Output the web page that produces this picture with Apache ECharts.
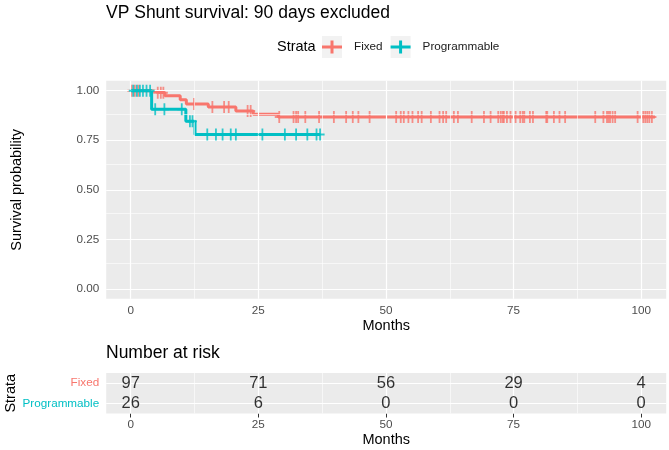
<!DOCTYPE html>
<html>
<head>
<meta charset="utf-8">
<script src="https://cdn.jsdelivr.net/npm/echarts@6/dist/echarts.min.js"></script>
<style>html,body{margin:0;padding:0;background:#fff}#c{width:669px;height:450px}</style>
</head>
<body>
<div id="c"></div>
<script>
// ---- data ----
const fixedTimes = [0, 4.1, 6.7, 9.7, 10.9, 15.2, 20.6, 24.0, 28.9, 102.7];
const fixedSurv  = [1.0, 0.990, 0.975, 0.955, 0.933, 0.918, 0.897, 0.881, 0.867, 0.867];
const progTimes  = [0, 4.1, 10.8, 12.6, 37.1];
const progSurv   = [1.0, 0.907, 0.846, 0.779, 0.779];
const fixedCensor = [0.2, 0.8, 1.5, 5.3, 5.9, 6.4, 12.4, 16.0, 18.3, 19.2, 22.9, 23.5, 29.1, 31.9, 32.4, 32.8, 34.2, 36.9, 39.8,
  42.2, 43.5, 44.6, 46.8, 52.0, 52.9, 53.5, 54.4, 55.2, 56.3, 57.0, 58.8, 60.5, 61.2, 61.8, 63.3, 64.1, 66.8, 69.2, 70.5,
  72.0, 72.5, 72.9, 73.1, 73.7, 74.4, 75.4, 76.3, 76.8, 77.1, 78.2, 78.8, 81.4, 81.6, 82.9, 84.0, 85.1, 91.0, 92.6, 93.3,
  93.6, 93.9, 94.4, 94.9, 99.3, 100.4, 100.8, 101.2, 101.6, 102.1];
const progCensor = [0.5, 1.2, 1.8, 2.4, 3.1, 3.8, 4.8, 6.6, 10.0, 11.6, 12.1, 15.0, 16.7, 18.0, 19.6, 20.6, 25.8, 30.2, 32.4, 34.6, 36.4, 37.1];
const strata = ['Fixed', 'Programmable'];
const riskTimes = [0, 25, 50, 75, 100];
const riskFixed = [97, 71, 56, 29, 4];
const riskProg  = [26, 6, 0, 0, 0];
const xTicks = [0, 25, 50, 75, 100];
const yTicks = [0, 0.25, 0.5, 0.75, 1];

// ---- helpers ----
const RED = '#F8766D', TEAL = '#00BFC4';
const FONT = 'Liberation Sans, Arial, Helvetica, sans-serif';
function survAt(times, surv, t) {
  let s = surv[0];
  for (let i = 0; i < times.length; i++) if (times[i] <= t) s = surv[i];
  return s;
}
function mids(arr) { const r = []; for (let i = 0; i < arr.length - 1; i++) r.push((arr[i] + arr[i + 1]) / 2); return r; }
const plusPath = 'path://M4,0 H6 V5 H10 V7 H6 V12 H4 V7 H0 V5 H4 Z';
const legendPlus = 'path://M0,5 H20 V8 H0 Z M8.5,0 H11.5 V13 H8.5 Z';

function gridLines(xMajor, xMinor, yMajor, yMinor) {
  const d = [];
  xMinor.forEach(v => d.push({ xAxis: v, lineStyle: { width: 0.6 } }));
  (yMinor || []).forEach(v => d.push({ yAxis: v, lineStyle: { width: 0.6 } }));
  xMajor.forEach(v => d.push({ xAxis: v, lineStyle: { width: 1.2 } }));
  yMajor.forEach(v => d.push({ yAxis: v, lineStyle: { width: 1.2 } }));
  return d;
}

const chart = echarts.init(document.getElementById('c'), null, { renderer: 'canvas' });

const axisLabelStyle = { color: '#4D4D4D', fontSize: 11.7, fontFamily: FONT };
const tickStyle = { show: true, length: 4, lineStyle: { color: '#333333', width: 1 } };
const riskCats = strata.slice().reverse();

const option = {
  animation: false,
  textStyle: { fontFamily: FONT },
  title: [
    { text: 'VP Shunt survival: 90 days excluded', left: 106, top: 4, padding: 0,
      textStyle: { fontSize: 17.5, fontWeight: 'normal', color: '#000', fontFamily: FONT } },
    { text: 'Strata', left: 277, top: 39, padding: 0,
      textStyle: { fontSize: 14.5, fontWeight: 'normal', color: '#000', fontFamily: FONT } },
    { text: 'Number at risk', left: 106, top: 344, padding: 0,
      textStyle: { fontSize: 17.5, fontWeight: 'normal', color: '#000', fontFamily: FONT } }
  ],
  legend: [
    { data: strata, left: 322, top: 36, orient: 'horizontal', itemWidth: 20, itemHeight: 22, itemGap: 8,
      icon: 'rect', selectedMode: false, padding: 0, z: 1,
      itemStyle: { color: '#F2F2F2' },
      textStyle: { color: 'rgba(0,0,0,0)', fontSize: 11.7, fontFamily: FONT, padding: [0, 0, 0, 7] } },
    { data: strata, left: 322, top: 40.5, orient: 'horizontal', itemWidth: 20, itemHeight: 13, itemGap: 8,
      icon: legendPlus, selectedMode: false, padding: 0, z: 5,
      textStyle: { color: '#1A1A1A', fontSize: 11.7, fontFamily: FONT, padding: [0, 0, 0, 7] } }
  ],
  grid: [
    { left: 106.2, top: 80.8, width: 560, height: 218, show: true, backgroundColor: '#EBEBEB', borderWidth: 0,
      containLabel: false, outerBoundsMode: 'none' },
    { left: 106.2, top: 373, width: 560, height: 40.5, show: true, backgroundColor: '#EBEBEB', borderWidth: 0,
      containLabel: false, outerBoundsMode: 'none' }
  ],
  xAxis: [
    { gridIndex: 0, type: 'value', min: -4.8, max: 104.9,
      axisLine: { show: false }, splitLine: { show: false },
      axisTick: Object.assign({ customValues: xTicks }, tickStyle),
      axisLabel: Object.assign({ customValues: xTicks, margin: 6 }, axisLabelStyle),
      name: 'Months', nameLocation: 'middle', nameGap: 20, nameMoveOverlap: false,
      nameTextStyle: { fontSize: 14.5, color: '#000', fontFamily: FONT } },
    { gridIndex: 1, type: 'value', min: -4.8, max: 104.9,
      axisLine: { show: false }, splitLine: { show: false },
      axisTick: Object.assign({ customValues: xTicks }, tickStyle),
      axisLabel: Object.assign({ customValues: xTicks, margin: 5 }, axisLabelStyle),
      name: 'Months', nameLocation: 'middle', nameGap: 18.5, nameMoveOverlap: false,
      nameTextStyle: { fontSize: 14.5, color: '#000', fontFamily: FONT } }
  ],
  yAxis: [
    { gridIndex: 0, type: 'value', min: -0.05, max: 1.05,
      axisLine: { show: false }, splitLine: { show: false },
      axisTick: Object.assign({ customValues: yTicks }, tickStyle),
      axisLabel: Object.assign({ customValues: yTicks, margin: 7, formatter: v => v.toFixed(2) }, axisLabelStyle),
      name: 'Survival probability', nameLocation: 'middle', nameGap: 82, nameMoveOverlap: false,
      nameTextStyle: { fontSize: 14.5, color: '#000', fontFamily: FONT } },
    { gridIndex: 1, type: 'category', data: riskCats,
      axisLine: { show: false }, splitLine: { show: false },
      axisTick: Object.assign({ alignWithLabel: true }, tickStyle),
      axisLabel: { margin: 7, fontSize: 11.7, fontFamily: FONT, color: v => (v === 'Fixed' ? RED : TEAL) },
      name: 'Strata', nameLocation: 'middle', nameGap: 88, nameMoveOverlap: false,
      nameTextStyle: { fontSize: 14.5, color: '#000', fontFamily: FONT } }
  ],
  series: [
    { name: 'gridMain', type: 'scatter', xAxisIndex: 0, yAxisIndex: 0, data: [], z: 1, silent: true,
      markLine: { silent: true, symbol: ['none', 'none'], label: { show: false }, animation: false,
        lineStyle: { color: '#FFFFFF', type: 'solid' },
        data: gridLines(xTicks, mids(xTicks), yTicks, mids(yTicks)) } },
    { name: 'gridRisk', type: 'scatter', xAxisIndex: 1, yAxisIndex: 1, data: [], z: 1, silent: true,
      markLine: { silent: true, symbol: ['none', 'none'], label: { show: false }, animation: false,
        lineStyle: { color: '#FFFFFF', type: 'solid' },
        data: gridLines(xTicks, mids(xTicks), riskCats.map((c, i) => i), null) } },
    { name: 'Fixed', type: 'line', step: 'end', xAxisIndex: 0, yAxisIndex: 0, z: 2,
      data: fixedTimes.map((t, i) => [t, fixedSurv[i]]), showSymbol: false, symbol: 'none',
      itemStyle: { color: RED }, lineStyle: { color: RED, width: 3 } },
    { name: 'FixedCensor', type: 'scatter', xAxisIndex: 0, yAxisIndex: 0, z: 3,
      data: fixedCensor.map(t => [t, survAt(fixedTimes, fixedSurv, t)]),
      symbol: plusPath, symbolSize: [9, 12], itemStyle: { color: RED } },
    { name: 'Programmable', type: 'line', step: 'end', xAxisIndex: 0, yAxisIndex: 0, z: 4,
      data: progTimes.map((t, i) => [t, progSurv[i]]), showSymbol: false, symbol: 'none',
      itemStyle: { color: TEAL }, lineStyle: { color: TEAL, width: 3 } },
    { name: 'ProgCensor', type: 'scatter', xAxisIndex: 0, yAxisIndex: 0, z: 5,
      data: progCensor.map(t => [t, survAt(progTimes, progSurv, t)]),
      symbol: plusPath, symbolSize: [9, 12], itemStyle: { color: TEAL } },
    { name: 'riskNumbers', type: 'scatter', xAxisIndex: 1, yAxisIndex: 1, z: 6, silent: true,
      data: riskTimes.map((t, i) => [t, 'Fixed', riskFixed[i]]).concat(riskTimes.map((t, i) => [t, 'Programmable', riskProg[i]])),
      symbolSize: 1, itemStyle: { color: 'rgba(0,0,0,0)' },
      label: { show: true, position: 'inside', formatter: p => String(p.value[2]), fontSize: 16.5, color: '#000', fontFamily: FONT } }
  ]
};
chart.setOption(option);
</script>
</body>
</html>
